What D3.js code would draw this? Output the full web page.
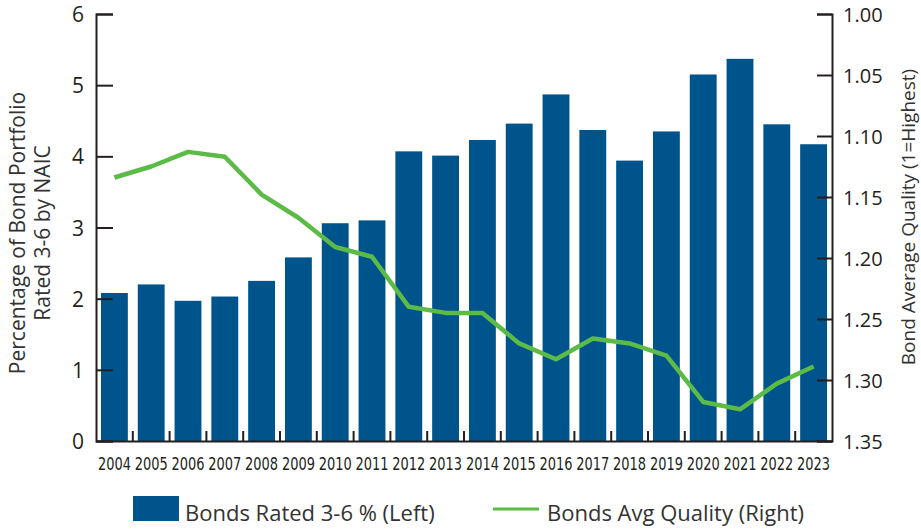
<!DOCTYPE html>
<html>
<head>
<meta charset="utf-8">
<script src="https://cdn.jsdelivr.net/npm/d3@7"></script>
<style>
  body { margin: 0; background: #fff; }
  svg { display: block; font-family: "Open Sans", sans-serif; }
</style>
</head>
<body>
<svg id="chart"></svg>
<script>
const years = ['2004','2005','2006','2007','2008','2009','2010','2011','2012','2013',
  '2014','2015','2016','2017','2018','2019','2020','2021','2022','2023']
const ratedPct = [2.08, 2.20, 1.97, 2.03, 2.25, 2.58, 3.06, 3.10, 4.07, 4.01,
  4.23, 4.46, 4.87, 4.37, 3.94, 4.35, 5.15, 5.37, 4.45, 4.17]
const avgQuality = [1.134, 1.125, 1.113, 1.117, 1.148, 1.167, 1.191, 1.199, 1.240, 1.245,
  1.245, 1.270, 1.283, 1.266, 1.270, 1.280, 1.318, 1.324, 1.303, 1.289]
const leftTicks = [0, 1, 2, 3, 4, 5, 6]
const rightTicks = [1.00, 1.05, 1.10, 1.15, 1.20, 1.25, 1.30, 1.35]

const width = 921
const height = 531
const plotLeft = 96, plotRight = 832, plotTop = 14, plotBottom = 441

const svg = d3.select('svg#chart')
  .attr('width', width)
  .attr('height', height)

const x = d3.scaleBand()
  .domain(years)
  .range([plotLeft, plotRight])
  .paddingInner(0.27)
  .paddingOuter(0.135)

const y = d3.scaleLinear().domain([0, 6]).range([plotBottom, plotTop])
const y2 = d3.scaleLinear().domain([1.00, 1.35]).range([plotTop, plotBottom])

// bars
svg.append('g')
  .selectAll('rect')
  .data(years)
  .enter().append('rect')
  .attr('x', d => x(d))
  .attr('y', (d, i) => y(ratedPct[i]))
  .attr('width', x.bandwidth())
  .attr('height', (d, i) => y(0) - y(ratedPct[i]))
  .attr('fill', '#00548c')

// quality line
const line = d3.line()
  .x((d, i) => x(years[i]) + x.bandwidth() / 2)
  .y(d => y2(d))

svg.append('path')
  .datum(avgQuality)
  .attr('d', line)
  .attr('fill', 'none')
  .attr('stroke', '#5cba47')
  .attr('stroke-width', 4.5)
  .attr('stroke-linejoin', 'round')

// left axis
const yAxis = svg.append('g')
  .attr('transform', `translate(${plotLeft},0)`)
  .call(d3.axisLeft(y).tickValues(leftTicks).tickSize(-17).tickPadding(12).tickFormat(d3.format('d')))
yAxis.select('.domain').attr('stroke', '#231f20').attr('stroke-width', 2)
yAxis.selectAll('.tick line').attr('stroke', '#231f20').attr('stroke-width', 2)
yAxis.selectAll('.tick text')
  .attr('font-size', 21)
  .attr('fill', '#231f20')
  .attr('font-family', '"Open Sans", sans-serif')
  .attr('dy', '0.36em')

// right axis
const y2Axis = svg.append('g')
  .attr('transform', `translate(${plotRight},0)`)
  .call(d3.axisRight(y2).tickValues(rightTicks).tickSize(-15).tickPadding(11).tickFormat(d3.format('.2f')))
y2Axis.select('.domain').attr('stroke', '#231f20').attr('stroke-width', 2)
y2Axis.selectAll('.tick line').attr('stroke', '#231f20').attr('stroke-width', 2)
y2Axis.selectAll('.tick text')
  .attr('font-size', 20)
  .attr('fill', '#231f20')
  .attr('font-family', '"Open Sans", sans-serif')
  .attr('dy', '0.36em')

// bottom axis
const xAxis = svg.append('g')
  .attr('transform', `translate(0,${plotBottom})`)
  .call(d3.axisBottom(x).tickSize(0).tickPadding(17))
xAxis.select('.domain').attr('stroke', '#231f20').attr('stroke-width', 2)
xAxis.selectAll('.tick text')
  .attr('font-size', 17)
  .attr('fill', '#231f20')
  .attr('font-family', '"DejaVu Sans Condensed", "Liberation Sans Narrow", sans-serif')
  .attr('textLength', 33)
  .attr('lengthAdjust', 'spacingAndGlyphs')

const step = x.step()
const gap = step * x.paddingInner()
xAxis.selectAll('.sep')
  .data(years.slice(1))
  .enter().append('line')
  .attr('class', 'sep')
  .attr('x1', d => x(d) - gap / 2)
  .attr('x2', d => x(d) - gap / 2)
  .attr('y1', 0)
  .attr('y2', -10)
  .attr('stroke', '#231f20')
  .attr('stroke-width', 2)

// axis titles
svg.append('text')
  .attr('transform', 'translate(25,233) rotate(-90)')
  .attr('text-anchor', 'middle')
  .attr('font-size', 21)
  .attr('fill', '#333')
  .selectAll('tspan')
  .data(['Percentage of Bond Portfolio', 'Rated 3-6 by NAIC'])
  .enter().append('tspan')
  .attr('x', 0)
  .attr('dy', (d, i) => i === 0 ? 0 : 25)
  .text(d => d)

svg.append('text')
  .attr('transform', 'translate(915,217) rotate(-90)')
  .attr('text-anchor', 'middle')
  .attr('font-size', 19)
  .attr('fill', '#333')
  .text('Bond Average Quality (1=Highest)')

// legend
const legend = svg.append('g')
legend.append('rect')
  .attr('x', 133).attr('y', 496)
  .attr('width', 46).attr('height', 25)
  .attr('fill', '#00548c')
legend.append('text')
  .attr('x', 185).attr('y', 521)
  .attr('font-size', 22)
  .attr('fill', '#333')
  .text('Bonds Rated 3-6 % (Left)')
legend.append('line')
  .attr('x1', 493).attr('x2', 539)
  .attr('y1', 509).attr('y2', 509)
  .attr('stroke', '#5cba47')
  .attr('stroke-width', 3)
legend.append('text')
  .attr('x', 547).attr('y', 521)
  .attr('font-size', 22)
  .attr('fill', '#333')
  .text('Bonds Avg Quality (Right)')
</script>
</body>
</html>
